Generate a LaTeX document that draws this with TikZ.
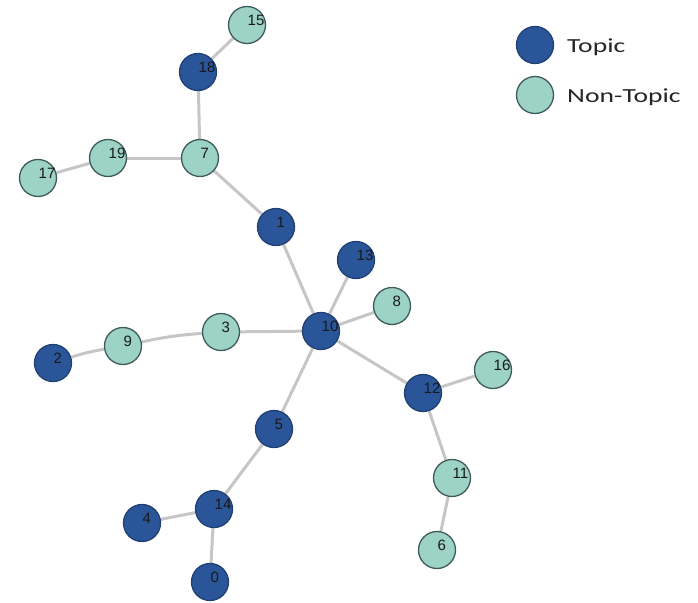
\documentclass[tikz,border=0pt]{standalone}
\usepackage{fontspec}
\usepackage{graphicx}
\setmainfont{Liberation Sans}
\newfontfamily\legendfont{Carlito}
\usetikzlibrary{backgrounds}
\definecolor{topicc}{HTML}{2A5699}
\definecolor{nontopicc}{HTML}{9DD3C5}
\definecolor{edgec}{HTML}{C6C6C6}
\definecolor{rimc}{HTML}{3E5A5A}
\begin{document}
\begin{tikzpicture}[x=1pt,y=-1pt,
  vert/.style={circle,minimum size=37pt,inner sep=0pt,draw=rimc,line width=1.3pt},
  topic/.style={vert,fill=topicc,draw=topicc!75!black},
  nontopic/.style={vert,fill=nontopicc},
  lab/.style={anchor=west,inner sep=0pt,xshift=0.5pt,yshift=5pt,font=\fontsize{15}{15}\selectfont,text=black!90},
  legtext/.style={anchor=west,inner sep=0pt,font=\legendfont\fontsize{20}{20}\selectfont,text=black!85},
  edge/.style={draw=edgec,line width=3pt}]
\useasboundingbox (0,0) rectangle (698,602);
% nodes
\node[nontopic] (n15) at (247,25) {};
\node[topic] (n18) at (198,72) {};
\node[nontopic] (n7) at (200,158) {};
\node[nontopic] (n19) at (108,158) {};
\node[nontopic] (n17) at (38,178) {};
\node[topic] (n1) at (276,227) {};
\node[topic] (n13) at (356,260) {};
\node[nontopic] (n8) at (392,306) {};
\node[topic] (n10) at (321,331) {};
\node[nontopic] (n3) at (221,332) {};
\node[nontopic] (n9) at (123,346) {};
\node[topic] (n2) at (53,363) {};
\node[topic] (n12) at (423,393) {};
\node[nontopic] (n16) at (493,370) {};
\node[topic] (n5) at (274,429) {};
\node[nontopic] (n11) at (452,478) {};
\node[topic] (n14) at (214,509) {};
\node[topic] (n4) at (142,523) {};
\node[nontopic] (n6) at (437,550) {};
\node[topic] (n0) at (210,582) {};
% labels
\foreach \i in {15,18,7,19,17,1,13,8,10,3,9,2,12,16,5,11,14,4,6,0}
  \node[lab] (l\i) at (n\i) {\i};
% edges
\begin{scope}[on background layer]
\draw[edge] (n15) -- (n18);
\draw[edge] (n18) -- (n7);
\draw[edge] (n19) -- (n7);
\draw[edge] (n17) -- (n19);
\draw[edge] (n7) -- (n1);
\draw[edge] (n1) -- (n10);
\draw[edge] (n13) -- (n10);
\draw[edge] (n8) -- (n10);
\draw[edge] (n3) -- (n10);
\draw[edge] (n9) to[bend left=4] (n3);
\draw[edge] (n2) to[bend left=4] (n9);
\draw[edge] (n10) -- (n12);
\draw[edge] (n12) -- (n16);
\draw[edge] (n12) -- (n11);
\draw[edge] (n11) -- (n6);
\draw[edge] (n10) -- (n5);
\draw[edge] (n5) -- (n14);
\draw[edge] (n14) -- (n4);
\draw[edge] (n14) -- (n0);
\end{scope}
% legend
\node[topic] (legT) at (535,45) {};
\node[nontopic] (legN) at (535,95) {};
\node[legtext] (legTt) at (567,47) {\scalebox{1.38}[1]{Topic}};
\node[legtext] (legNt) at (567,97) {\scalebox{1.38}[1]{Non-Topic}};
\end{tikzpicture}
\end{document}
